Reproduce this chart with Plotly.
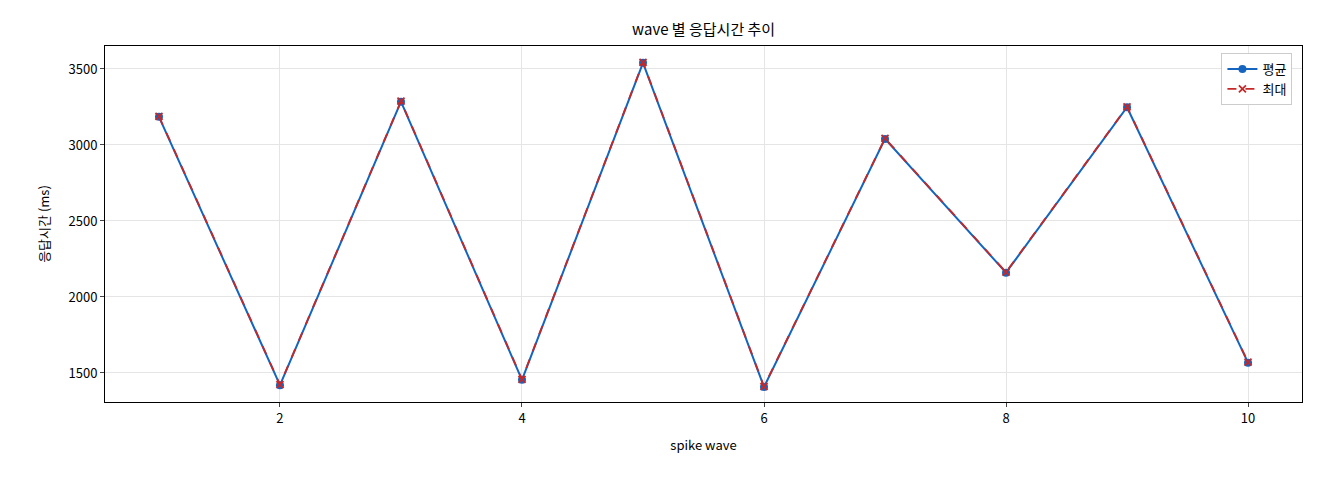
import plotly.graph_objects as go

waves = [1, 2, 3, 4, 5, 6, 7, 8, 9, 10]
avg_ms = [3185, 1420, 3285, 1455, 3540, 1408, 3040, 2160, 3248, 1568]
max_ms = [3188, 1423, 3288, 1458, 3543, 1411, 3043, 2163, 3251, 1571]

font = "Noto Sans CJK KR"
fig = go.Figure()
fig.add_trace(go.Scatter(x=waves, y=avg_ms, name="평균", mode="lines+markers",
                         line=dict(color="#1565C0", width=2), marker=dict(symbol="circle", size=8)))
fig.add_trace(go.Scatter(x=waves, y=max_ms, name="최대", mode="lines+markers",
                         line=dict(color="#C62828", width=1.8, dash="dash"), marker=dict(symbol="x-thin", size=7, line=dict(width=1.8, color="#C62828"))))

ax = dict(showline=True, linecolor="black", linewidth=1, mirror=True, ticks="outside",
          ticklen=4, gridcolor="#e5e5e5", zeroline=False, tickfont=dict(size=13, color="black"))
fig.update_layout(
    width=1320, height=480, plot_bgcolor="white", paper_bgcolor="white",
    font=dict(family=font, color="black"),
    margin=dict(l=97, r=26, t=38, b=86),
    title=dict(text="wave 별 응답시간 추이", x=0.527, xanchor="center", y=0.965, font=dict(size=15)),
    xaxis=dict(ax, range=[0.554, 10.446], tickvals=[2, 4, 6, 8, 10],
               title=dict(text="spike wave", font=dict(size=13))),
    yaxis=dict(ax, range=[1309, 3651], tickvals=[1500, 2000, 2500, 3000, 3500],
               title=dict(text="응답시간 (ms)", font=dict(size=13))),
    legend=dict(x=0.992, y=0.98, xanchor="right", yanchor="top", bordercolor="#cccccc",
                borderwidth=1, bgcolor="white", font=dict(size=13)),
)
fig.write_html("out.html")
